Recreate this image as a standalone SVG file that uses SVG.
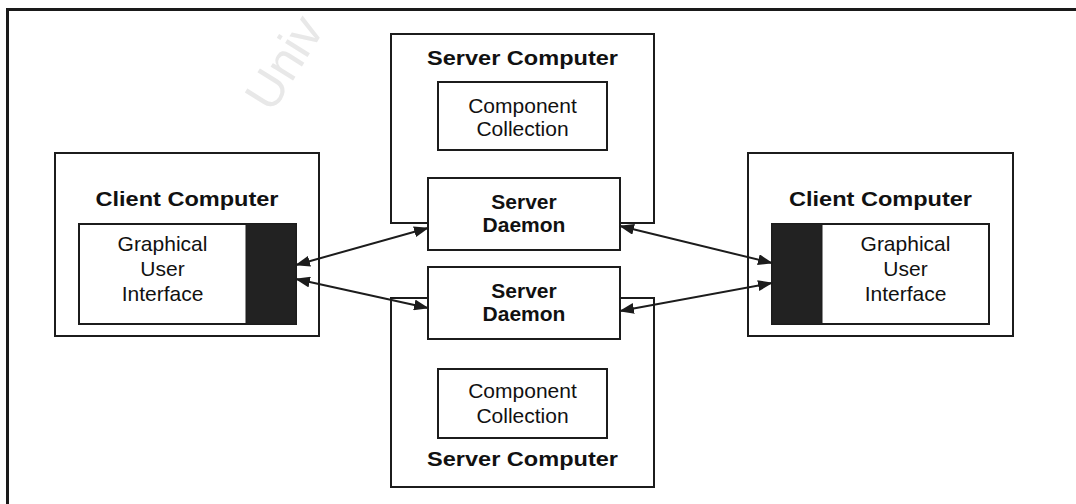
<svg xmlns="http://www.w3.org/2000/svg" width="1076" height="504" viewBox="0 0 1076 504">
  <style>
    .box { fill: #ffffff; stroke: #1c1c1c; stroke-width: 2; }
    .bar { fill: #222222; stroke: #1c1c1c; stroke-width: 1; }
    .title { font-family: "Liberation Sans", Arial, sans-serif; font-weight: bold; font-size: 20px; fill: #111111; text-anchor: middle; }
    .daemon { font-family: "Liberation Sans", Arial, sans-serif; font-weight: bold; font-size: 21px; fill: #111111; text-anchor: middle; }
    .label { font-family: "Liberation Sans", Arial, sans-serif; font-size: 21px; fill: #111111; text-anchor: middle; }
    .link { stroke: #1c1c1c; stroke-width: 2; fill: none; marker-start: url(#head); marker-end: url(#head); }
    .mark { font-family: "Liberation Sans", Arial, sans-serif; font-size: 50px; fill: #e8e8e8; }
  </style>
  <defs>
    <marker id="head" viewBox="0 0 15 11" refX="14" refY="5.5" markerWidth="15" markerHeight="11" markerUnits="userSpaceOnUse" orient="auto-start-reverse">
      <path d="M0,0 L15,5.5 L0,11 Z" fill="#1c1c1c"/>
    </marker>
  </defs>

  <rect width="1076" height="504" fill="#ffffff"/>

  <!-- faint background lettering -->
  <text class="mark" transform="translate(272,114) rotate(-58)">Univ</text>

  <!-- page frame (top and left edges) -->
  <path d="M7.5,504 V9.5 H1076" fill="none" stroke="#1a1a1a" stroke-width="3"/>

  <!-- left client -->
  <g id="client-left">
    <rect class="box" x="55" y="153" width="264" height="183"/>
    <text class="title" x="187" y="206" textLength="183" lengthAdjust="spacingAndGlyphs">Client Computer</text>
    <rect class="box" x="79" y="224" width="217" height="100"/>
    <rect class="bar" x="246" y="224" width="50" height="100"/>
    <text class="label" x="162.5" y="251">Graphical</text>
    <text class="label" x="162.5" y="276">User</text>
    <text class="label" x="162.5" y="301">Interface</text>
  </g>

  <!-- right client -->
  <g id="client-right">
    <rect class="box" x="748" y="153" width="265" height="183"/>
    <text class="title" x="880.5" y="206" textLength="183" lengthAdjust="spacingAndGlyphs">Client Computer</text>
    <rect class="box" x="772" y="224" width="217" height="100"/>
    <rect class="bar" x="772" y="224" width="50" height="100"/>
    <text class="label" x="905.5" y="251">Graphical</text>
    <text class="label" x="905.5" y="276">User</text>
    <text class="label" x="905.5" y="301">Interface</text>
  </g>

  <!-- upper server -->
  <g id="server-top">
    <rect class="box" x="391" y="34" width="263" height="189"/>
    <text class="title" x="522.5" y="65" textLength="191" lengthAdjust="spacingAndGlyphs">Server Computer</text>
    <rect class="box" x="438" y="82" width="169" height="68"/>
    <text class="label" x="522.5" y="113">Component</text>
    <text class="label" x="522.5" y="136">Collection</text>
  </g>
  <g id="daemon-top">
    <rect class="box" x="428" y="178" width="192" height="72"/>
    <text class="daemon" x="524" y="209">Server</text>
    <text class="daemon" x="524" y="232">Daemon</text>
  </g>

  <!-- lower server -->
  <g id="server-bottom">
    <rect class="box" x="391" y="298" width="263" height="189"/>
    <text class="title" x="522.5" y="466" textLength="191" lengthAdjust="spacingAndGlyphs">Server Computer</text>
    <rect class="box" x="438" y="369" width="169" height="69"/>
    <text class="label" x="522.5" y="398">Component</text>
    <text class="label" x="522.5" y="423">Collection</text>
  </g>
  <g id="daemon-bottom">
    <rect class="box" x="428" y="267" width="192" height="72"/>
    <text class="daemon" x="524" y="298">Server</text>
    <text class="daemon" x="524" y="321">Daemon</text>
  </g>

  <!-- connectors -->
  <g id="connectors">
    <line class="link" x1="296" y1="265" x2="428" y2="228"/>
    <line class="link" x1="296" y1="279" x2="428" y2="308"/>
    <line class="link" x1="620" y1="226" x2="772" y2="263"/>
    <line class="link" x1="620" y1="311" x2="772" y2="283"/>
  </g>
</svg>
